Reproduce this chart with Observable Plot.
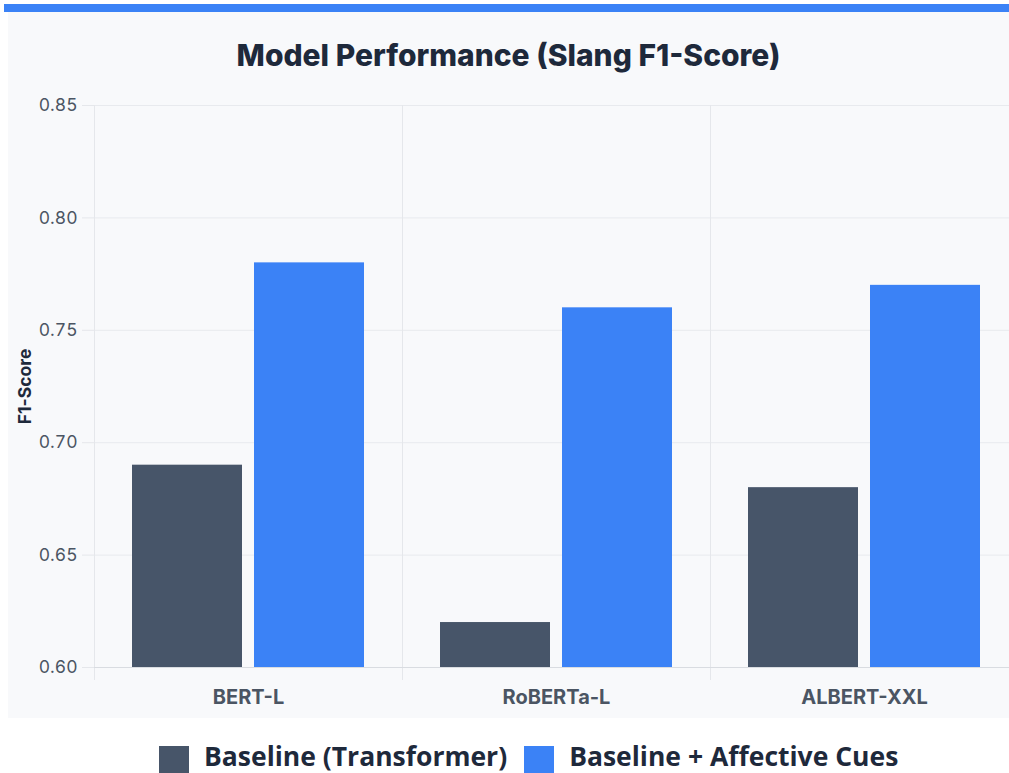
<!DOCTYPE html>
<html><head><meta charset="utf-8">
<script src="https://cdn.jsdelivr.net/npm/d3@7"></script>
<script src="https://cdn.jsdelivr.net/npm/@observablehq/plot@0.6"></script>
<style>
html,body{margin:0;padding:0;background:#fff;}
body{overflow:hidden;width:1009px;height:773px;position:relative;font-family:Inter,sans-serif;}
#topbar{position:absolute;left:4px;top:4px;width:1005px;height:8px;background:#3b82f6;}
#panel{position:absolute;left:8px;top:12px;width:1001px;height:706px;background:#f8f9fb;}
#chart{position:absolute;left:0;top:0;}
#title{position:absolute;left:8px;width:1001px;top:37px;text-align:center;font-family:Inter,sans-serif;font-weight:800;font-size:30px;line-height:36px;color:#1e293b;}
#legend{position:absolute;top:746px;left:159px;display:flex;align-items:flex-start;white-space:nowrap;}
.sw{width:30px;height:30px;flex:none;}
.lt{font-family:"Open Sans",sans-serif;font-weight:700;font-size:26.5px;line-height:26px;color:#1e293b;margin-left:15px;margin-right:17px;position:relative;top:-3px;}
</style></head>
<body>
<div id="topbar"></div>
<div id="panel"></div>
<div id="chart"></div>
<div id="title">Model Performance (Slang F1-Score)</div>
<div id="legend"></div>
<script>
const models = ["BERT-L", "RoBERTa-L", "ALBERT-XXL"];
const series = ["Baseline (Transformer)", "Baseline + Affective Cues"];
const baseline = [0.69, 0.62, 0.68];
const affective = [0.78, 0.76, 0.77];
const colors = ["#475569", "#3b82f6"];
const yTicks = [0.60, 0.65, 0.70, 0.75, 0.80, 0.85];
const yLabel = "F1-Score";

const data = models.flatMap((m, i) => [
  {model: m, series: series[0], value: baseline[i]},
  {model: m, series: series[1], value: affective[i]}
]);

const chart = Plot.plot({
  width: 1018, height: 718,
  marginLeft: 94, marginRight: 0, marginTop: 105, marginBottom: 51,
  style: {background: "transparent", maxWidth: "none", overflow: "visible", fontFamily: "Inter, sans-serif"},
  fx: {domain: models, padding: 0, label: null},
  x: {domain: series, paddingInner: 0.0976, paddingOuter: 0.301, axis: null},
  y: {domain: [0.6, 0.85], label: null},
  color: {domain: series, range: colors},
  marks: [
    Plot.gridY(yTicks, {stroke: "#e8eaee", strokeOpacity: 1}),
    Plot.frame({anchor: "left", stroke: "#e5e7eb", insetBottom: -12}),
    Plot.barY(data, {fx: "model", x: "series", y1: 0.6, y2: "value", fill: "series"}),
    Plot.ruleY([0.6], {stroke: "#d9dce1"}),
    Plot.axisY(yTicks, {tickSize: 12, tickPadding: 5, tickFormat: d3.format(".2f"), stroke: "#e5e7eb", fill: "#4b5563", fontSize: 17.5, label: null}),
    Plot.axisY({ticks: [], label: yLabel, labelAnchor: "center", labelArrow: "none", labelOffset: 76, fontSize: 17.5, fontWeight: 700, fill: "#1e293b"}),
    Plot.axisFx({anchor: "bottom", tickSize: 0, tickPadding: 22, fontSize: 20, fontWeight: 700, fill: "#4b5563", label: null, style: {letterSpacing: "0.4px"}})
  ]
});
document.getElementById("chart").appendChild(chart);

const legend = document.getElementById("legend");
series.forEach((s, i) => {
  const sw = document.createElement("div");
  sw.className = "sw"; sw.style.background = colors[i];
  const t = document.createElement("div");
  t.className = "lt"; t.textContent = s;
  legend.appendChild(sw); legend.appendChild(t);
});
</script>
</body></html>
